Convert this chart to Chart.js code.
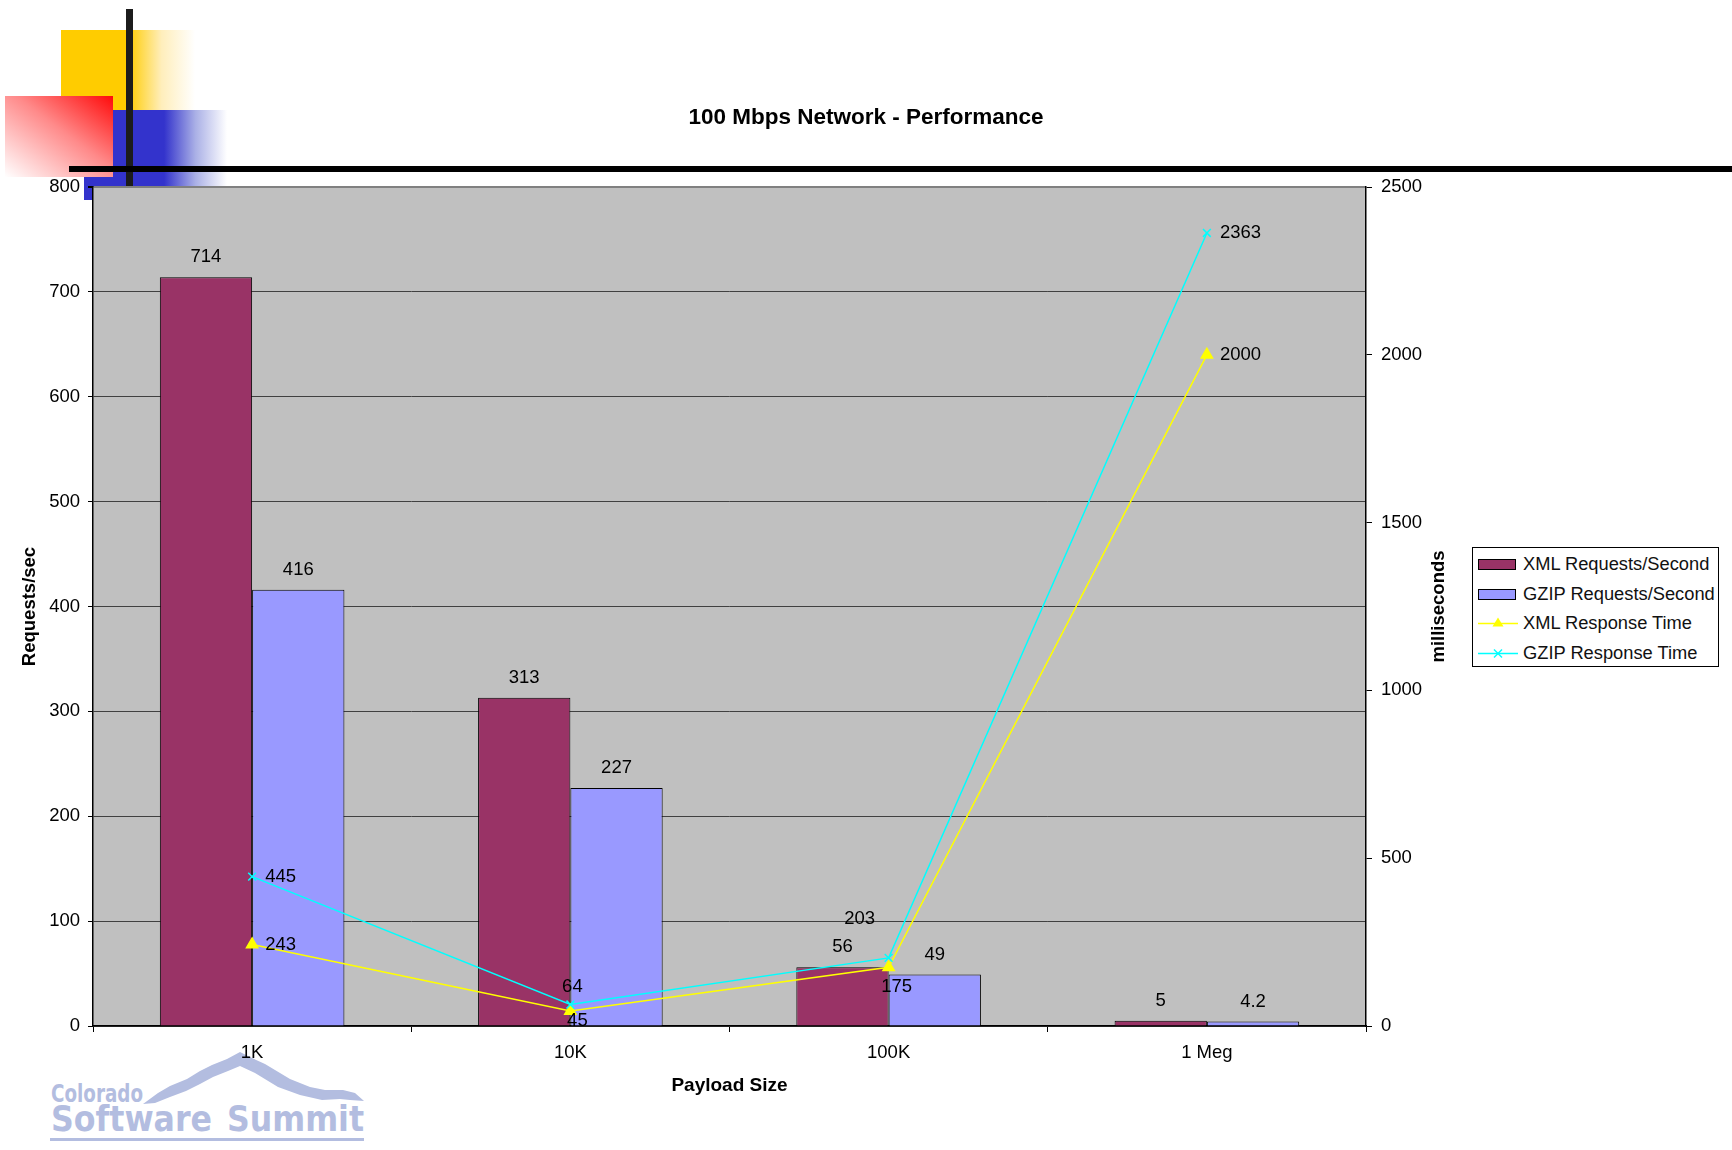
<!DOCTYPE html>
<html>
<head>
<meta charset="utf-8">
<script src="https://cdn.jsdelivr.net/npm/chart.js@4.4.1/dist/chart.umd.min.js"></script>
<style>
  html, body { margin: 0; padding: 0; background: #fff; }
  body { width: 1732px; height: 1150px; position: relative; overflow: hidden; font-family: 'Liberation Sans', Arial, sans-serif; }
  .deco { position: absolute; }
  #chartWrap { position: absolute; left: 0; top: 0; width: 1732px; height: 1150px; z-index: 2; }
  #legend { position: absolute; left: 1472px; top: 547px; width: 245px; height: 118px; border: 1px solid #000; background: #fff; z-index: 3; }
  .lgRow { position: absolute; left: 0; height: 24px; width: 245px; }
  .lgText { position: absolute; left: 50px; top: 0; line-height: 24px; font-size: 18.3px; color: #111; white-space: nowrap; }
  #logo { position: absolute; left: 0; top: 0; z-index: 1; }
</style>
</head>
<body>
<!-- slide decoration -->
<div class="deco" style="left:61px;top:30px;width:134px;height:80px;background:linear-gradient(to right,#ffcc00 0%,#ffcc00 50%,#ffeebb 75%,#ffffff 100%);"></div>
<div class="deco" style="left:84px;top:110px;width:143px;height:90px;background:linear-gradient(to right,#3333cc 0%,#3333cc 56%,#aab0e6 78%,#ffffff 100%);"></div>
<div class="deco" style="left:5px;top:96px;width:108px;height:81px;background:linear-gradient(to bottom left,#ff0a0a 0%,#ff8a8a 45%,#ffffff 100%);"></div>
<div class="deco" style="left:126px;top:9px;width:7px;height:178px;background:#1c1c1c;"></div>
<div class="deco" style="left:69px;top:166px;width:1663px;height:6px;background:#000;"></div>

<svg id="logo" width="400" height="1150" viewBox="0 0 400 1150">
  <path d="M143,1104 L158,1093 L170,1086 L187,1079 L200,1071 L212,1065 L227,1059 L240,1052 L252,1058 L265,1064 L290,1079 L310,1087 L325,1090 L343,1090 L355,1093 L364,1101 L350,1100 L340,1099 L322,1100 L300,1095 L278,1087 L255,1073 L240,1066 L228,1071 L213,1077 L200,1084 L186,1091 L170,1097 L155,1103 Z" fill="#b3bde0"/>
  <text x="51" y="1102" font-family="'DejaVu Sans Condensed', 'DejaVu Sans', sans-serif" font-weight="bold" font-size="25" fill="#b3bde0" textLength="92" lengthAdjust="spacingAndGlyphs">Colorado</text>
  <text x="51" y="1131" font-family="'DejaVu Sans Condensed', 'DejaVu Sans', sans-serif" font-weight="bold" font-size="36" fill="#b3bde0" textLength="161" lengthAdjust="spacingAndGlyphs">Software</text>
  <text x="227" y="1131" font-family="'DejaVu Sans Condensed', 'DejaVu Sans', sans-serif" font-weight="bold" font-size="36" fill="#b3bde0" textLength="137" lengthAdjust="spacingAndGlyphs">Summit</text>
  <rect x="50" y="1138" width="314" height="3" fill="#b3bde0"/>
</svg>

<div id="chartWrap"><canvas id="c" width="1732" height="1150"></canvas></div>
<div id="legend"></div>

<script>
// ---------------- DATA ----------------
const chartTitle = '100 Mbps Network - Performance';
const categories = ['1K', '10K', '100K', '1 Meg'];
const xmlRequestsPerSec = [714, 313, 56, 5];
const gzipRequestsPerSec = [416, 227, 49, 4.2];
const xmlResponseTime = [243, 45, 175, 2000];
const gzipResponseTime = [445, 64, 203, 2363];
const seriesNames = ['XML Requests/Second', 'GZIP Requests/Second', 'XML Response Time', 'GZIP Response Time'];
const xAxisTitle = 'Payload Size';
const leftAxisTitle = 'Requests/sec';
const rightAxisTitle = 'milliseconds';
const leftTicks = { min: 0, max: 800, step: 100 };
const rightTicks = { min: 0, max: 2500, step: 500 };

// ---------------- STYLE ----------------
const FONT = "'Liberation Sans', Arial, sans-serif";
const TICK_SIZE = 18.5;
const colors = { xmlBar: '#993366', gzipBar: '#9999ff', xmlLine: '#ffff00', gzipLine: '#00ffff' };
// label placement per point (style only)
const placements = {
  right: { dx: 13, dy: 0, align: 'left' },
  above: { dx: 2, dy: -18, align: 'center' },
  aboveLeft: { dx: -29, dy: -39, align: 'center' },
  below: { dx: 7, dy: 10, align: 'center' },
  belowFar: { dx: 8, dy: 20, align: 'center' },
  barTop: { dx: 0, dy: -20, align: 'center' }
};
const xmlLinePlacement = ['right', 'below', 'belowFar', 'right'];
const gzipLinePlacement = ['right', 'above', 'aboveLeft', 'right'];

const bgPlugin = {
  id: 'plotBg',
  beforeDraw(chart) {
    const { ctx, chartArea: a } = chart;
    ctx.save();
    ctx.fillStyle = '#c0c0c0';
    ctx.fillRect(a.left, a.top, a.right - a.left, a.bottom - a.top);
    ctx.restore();
  }
};

const labelPlugin = {
  id: 'valueLabels',
  afterDatasetsDraw(chart) {
    const ctx = chart.ctx;
    ctx.save();
    ctx.font = TICK_SIZE + 'px ' + FONT;
    ctx.fillStyle = '#000';
    ctx.textBaseline = 'middle';
    chart.data.datasets.forEach((ds, di) => {
      const meta = chart.getDatasetMeta(di);
      meta.data.forEach((el, i) => {
        const p = ds.type === 'bar' ? placements.barTop : placements[ds.labelPlacement[i]];
        ctx.textAlign = p.align;
        ctx.fillText(String(ds.data[i]), el.x + p.dx, el.y + p.dy);
      });
    });
    ctx.restore();
  },
  afterDraw(chart) {
    const ctx = chart.ctx;
    const s = chart.scales.y1;
    ctx.save();
    ctx.font = 'bold 18.5px ' + FONT;
    ctx.fillStyle = '#000';
    ctx.textAlign = 'center';
    ctx.textBaseline = 'middle';
    ctx.translate(s.left + 73, (chart.chartArea.top + chart.chartArea.bottom) / 2);
    ctx.rotate(-Math.PI / 2);
    ctx.fillText(rightAxisTitle, 0, 0);
    ctx.restore();
  }
};

const plainNum = (v) => String(v);

const chart = new Chart(document.getElementById('c'), {
  data: {
    labels: categories,
    datasets: [
      { type: 'bar', label: seriesNames[0], data: xmlRequestsPerSec, yAxisID: 'y', order: 2,
        backgroundColor: colors.xmlBar, borderColor: '#000', borderWidth: 1,
        barPercentage: 1, categoryPercentage: 0.58 },
      { type: 'bar', label: seriesNames[1], data: gzipRequestsPerSec, yAxisID: 'y', order: 2,
        backgroundColor: colors.gzipBar, borderColor: '#000', borderWidth: 1,
        barPercentage: 1, categoryPercentage: 0.58 },
      { type: 'line', label: seriesNames[2], data: xmlResponseTime, yAxisID: 'y1', order: 1,
        borderColor: colors.xmlLine, backgroundColor: colors.xmlLine, borderWidth: 1.5,
        pointStyle: 'triangle', pointRadius: 6.5, pointBackgroundColor: colors.xmlLine, pointBorderColor: colors.xmlLine,
        tension: 0, labelPlacement: xmlLinePlacement },
      { type: 'line', label: seriesNames[3], data: gzipResponseTime, yAxisID: 'y1', order: 0,
        borderColor: colors.gzipLine, backgroundColor: colors.gzipLine, borderWidth: 1.5,
        pointStyle: 'crossRot', pointRadius: 5.5, pointBorderWidth: 1.5, pointBorderColor: colors.gzipLine,
        tension: 0, labelPlacement: gzipLinePlacement }
    ]
  },
  options: {
    responsive: false,
    animation: false,
    events: [],
    layout: { padding: 0 },
    plugins: {
      legend: { display: false },
      tooltip: { enabled: false },
      title: {
        display: true, text: chartTitle, color: '#000',
        font: { family: FONT, size: 22.5, weight: 'bold' },
        padding: { top: 104.5, bottom: 55.5 }
      }
    },
    scales: {
      x: {
        type: 'category',
        offset: true,
        grid: { offset: true, drawOnChartArea: false, drawTicks: true, tickLength: 6, color: '#000' },
        border: { color: '#000', width: 1.5 },
        ticks: { color: '#000', font: { family: FONT, size: TICK_SIZE }, padding: 10, maxRotation: 0 },
        title: { display: true, text: xAxisTitle, color: '#000', font: { family: FONT, size: 19, weight: 'bold' }, padding: { top: 0, bottom: 52.5 } },
        afterFit(s) { s.height = 124; }
      },
      y: {
        position: 'left',
        min: leftTicks.min, max: leftTicks.max,
        ticks: { stepSize: leftTicks.step, color: '#000', font: { family: FONT, size: TICK_SIZE }, padding: 8, callback: plainNum },
        grid: { color: (c) => (c.tick && c.tick.value === leftTicks.max ? '#808080' : '#404040'), lineWidth: (c) => (c.tick && c.tick.value === leftTicks.max ? 2 : 1), tickLength: 5, tickColor: '#000' },
        border: { color: '#000', width: 1.5 },
        title: { display: true, text: leftAxisTitle, color: '#000', font: { family: FONT, size: 18.5, weight: 'bold' }, padding: { top: 19, bottom: 0 } },
        afterFit(s) { s.width = 93; }
      },
      y1: {
        position: 'right',
        min: rightTicks.min, max: rightTicks.max,
        ticks: { stepSize: rightTicks.step, color: '#000', font: { family: FONT, size: TICK_SIZE }, padding: 9, callback: plainNum },
        grid: { drawOnChartArea: false, tickLength: 6, color: '#000' },
        border: { color: '#000', width: 1.5 },
        afterFit(s) { s.width = 366; }
      }
    }
  },
  plugins: [bgPlugin, labelPlugin]
});

// ---------------- HTML legend built from the chart datasets ----------------
(function buildLegend() {
  const lg = document.getElementById('legend');
  const rowTops = [4, 33.7, 63.4, 93.1];
  chart.data.datasets.forEach((ds, r) => {
    const row = document.createElement('div');
    row.className = 'lgRow';
    row.style.top = rowTops[r] + 'px';
    let sw;
    if (ds.type === 'bar') {
      sw = `<svg width="50" height="24" style="position:absolute;left:0;top:0"><rect x="5.5" y="7.5" width="37" height="10" fill="${ds.backgroundColor}" stroke="#000" stroke-width="1"/></svg>`;
    } else if (ds.pointStyle === 'triangle') {
      sw = `<svg width="50" height="24" style="position:absolute;left:0;top:0"><line x1="5" y1="12.5" x2="45" y2="12.5" stroke="${ds.borderColor}" stroke-width="1.5"/><polygon points="25,6.5 30.5,15.5 19.5,15.5" fill="${ds.borderColor}"/></svg>`;
    } else {
      sw = `<svg width="50" height="24" style="position:absolute;left:0;top:0"><line x1="5" y1="12.5" x2="45" y2="12.5" stroke="${ds.borderColor}" stroke-width="1.5"/><line x1="21" y1="8.5" x2="29" y2="16.5" stroke="${ds.borderColor}" stroke-width="1.5"/><line x1="29" y1="8.5" x2="21" y2="16.5" stroke="${ds.borderColor}" stroke-width="1.5"/></svg>`;
    }
    row.innerHTML = sw + `<span class="lgText">${ds.label}</span>`;
    lg.appendChild(row);
  });
})();
</script>
</body>
</html>
